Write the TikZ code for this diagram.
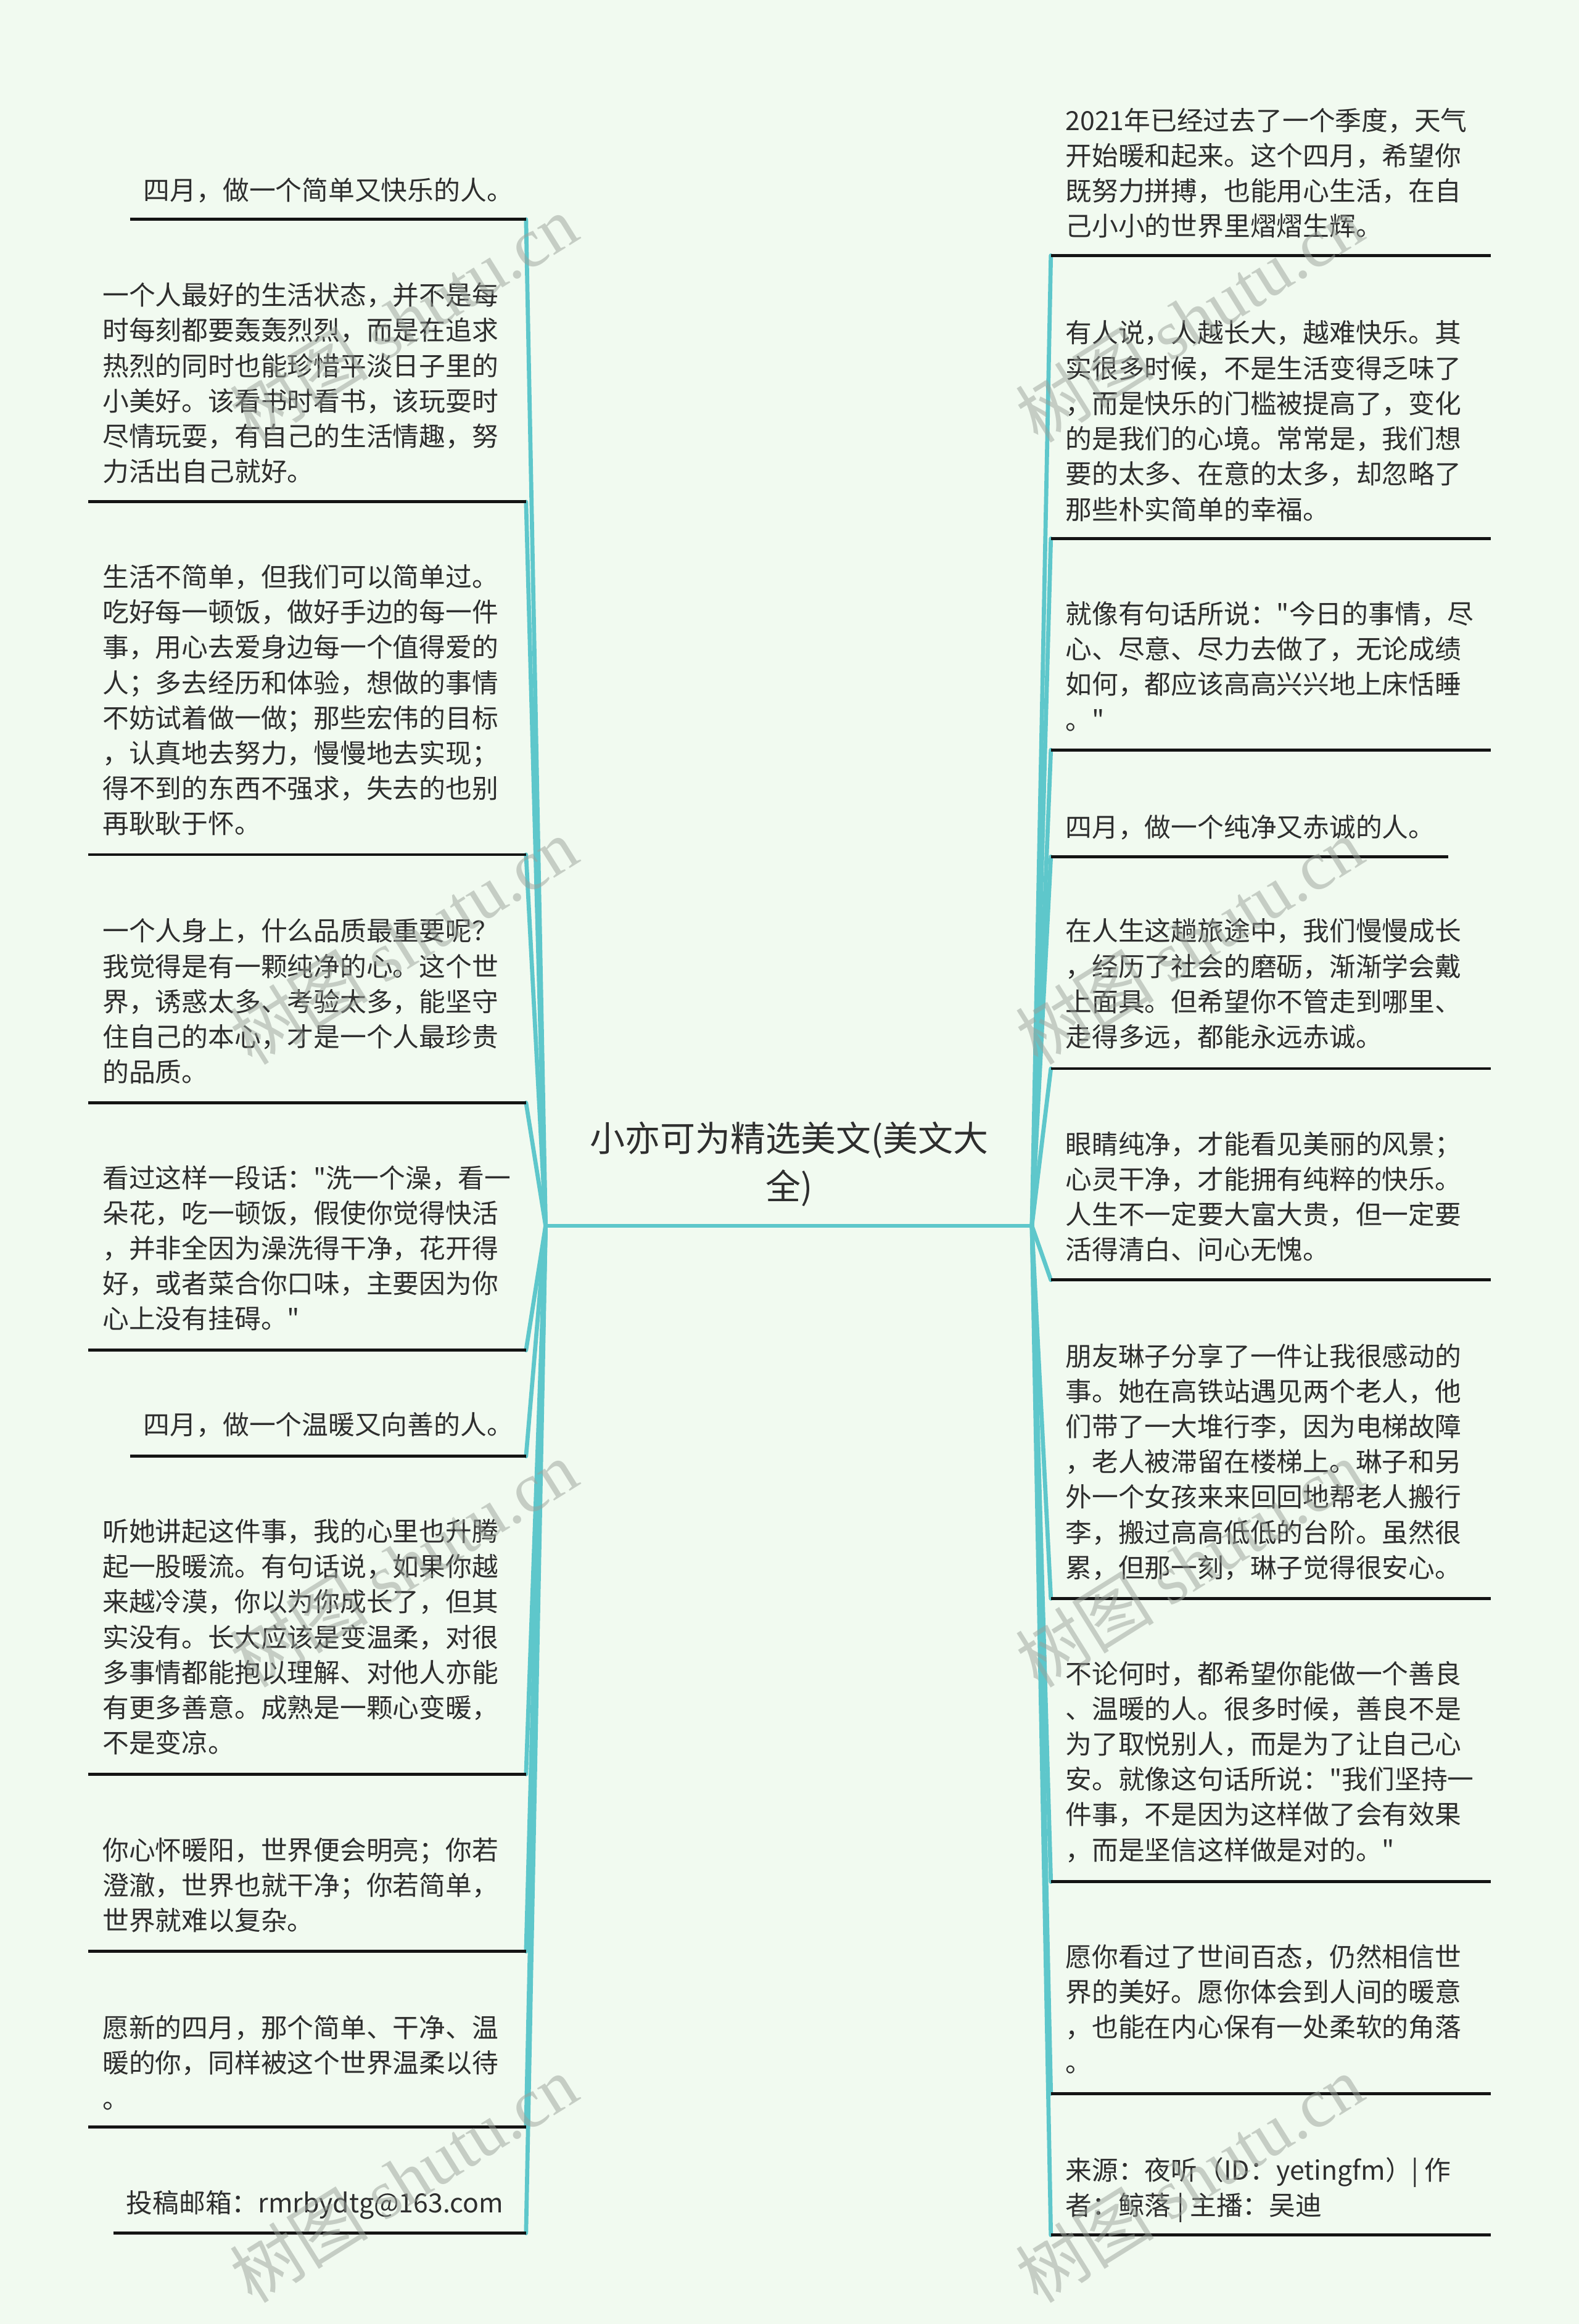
\documentclass[tikz,border=0pt]{standalone}
\usepackage{fontspec}
\setmainfont{Noto Sans CJK SC}[Ligatures=TeXOff]
\newfontfamily\wmlatin{Liberation Serif}
\definecolor{bgc}{HTML}{F1FAF0}
\definecolor{teal}{HTML}{5EC7CB}
\definecolor{txtc}{HTML}{2E2E2E}
\definecolor{wmc}{HTML}{9AA29A}
\tikzset{
  txt/.style={anchor=base west, inner sep=0pt, text=txtc, font=\fontsize{17.8}{23.8}\selectfont},
  uline/.style={draw=black!92, line width=2pt},
  conn/.style={draw=teal, line width=2.8pt, line cap=round},
  wm/.style={text=wmc, opacity=0.5, rotate=32, inner sep=0pt, font=\fontsize{47}{47}\selectfont}
}
\newcommand\tb[1]{\parbox[t]{292pt}{\raggedright #1}}
\begin{document}
\begin{tikzpicture}[x=1pt,y=-1pt]
\fill[bgc] (0,0) rectangle (1065,1568);
\useasboundingbox (0,0) rectangle (1065,1568);

% root
\node[anchor=base, inner sep=0pt, text=txtc, font=\fontsize{23.7}{32.4}\selectfont] (root) at (532.4,777)
  {\parbox[t]{280pt}{\centering 小亦可为精选美文(美文大\\全)}};
\coordinate (rootL) at (368,827);
\coordinate (rootR) at (696,827);

% left nodes
\node[txt] (L1) at (96.7,134.8) {四月，做一个简单又快乐的人。};
\node[txt] (L2) at (69,205.8) {\tb{一个人最好的生活状态，并不是每\\时每刻都要轰轰烈烈，而是在追求\\热烈的同时也能珍惜平淡日子里的\\小美好。该看书时看书，该玩耍时\\尽情玩耍，有自己的生活情趣，努\\力活出自己就好。}};
\node[txt] (L3) at (69,395.8) {\tb{生活不简单，但我们可以简单过。\\吃好每一顿饭，做好手边的每一件\\事，用心去爱身边每一个值得爱的\\人；多去经历和体验，想做的事情\\不妨试着做一做；那些宏伟的目标\\，认真地去努力，慢慢地去实现；\\得不到的东西不强求，失去的也别\\再耿耿于怀。}};
\node[txt] (L4) at (69,634.8) {\tb{一个人身上，什么品质最重要呢？\\我觉得是有一颗纯净的心。这个世\\界，诱惑太多、考验太多，能坚守\\住自己的本心，才是一个人最珍贵\\的品质。}};
\node[txt] (L5) at (69,801.3) {\tb{看过这样一段话："洗一个澡，看一\\朵花，吃一顿饭，假使你觉得快活\\，并非全因为澡洗得干净，花开得\\好，或者菜合你口味，主要因为你\\心上没有挂碍。"}};
\node[txt] (L6) at (96.7,967.8) {四月，做一个温暖又向善的人。};
\node[txt] (L7) at (69,1039.8) {\tb{听她讲起这件事，我的心里也升腾\\起一股暖流。有句话说，如果你越\\来越冷漠，你以为你成长了，但其\\实没有。长大应该是变温柔，对很\\多事情都能抱以理解、对他人亦能\\有更多善意。成熟是一颗心变暖，\\不是变凉。}};
\node[txt] (L8) at (69,1254.8) {\tb{你心怀暖阳，世界便会明亮；你若\\澄澈，世界也就干净；你若简单，\\世界就难以复杂。}};
\node[txt] (L9) at (69,1374.8) {\tb{愿新的四月，那个简单、干净、温\\暖的你，同样被这个世界温柔以待\\。}};
\node[txt] (L10) at (85,1492.8) {投稿邮箱：rmrbydtg@163.com};

% right nodes
\node[txt] (R1) at (718.5,87.8) {\tb{2021年已经过去了一个季度，天气\\开始暖和起来。这个四月，希望你\\既努力拼搏，也能用心生活，在自\\己小小的世界里熠熠生辉。}};
\node[txt] (R2) at (718.5,231.3) {\tb{有人说，人越长大，越难快乐。其\\实很多时候，不是生活变得乏味了\\，而是快乐的门槛被提高了，变化\\的是我们的心境。常常是，我们想\\要的太多、在意的太多，却忽略了\\那些朴实简单的幸福。}};
\node[txt] (R3) at (718.5,420.8) {\tb{就像有句话所说："今日的事情，尽\\心、尽意、尽力去做了，无论成绩\\如何，都应该高高兴兴地上床恬睡\\。"}};
\node[txt] (R4) at (718.5,564.8) {四月，做一个纯净又赤诚的人。};
\node[txt] (R5) at (718.5,634.8) {\tb{在人生这趟旅途中，我们慢慢成长\\，经历了社会的磨砺，渐渐学会戴\\上面具。但希望你不管走到哪里、\\走得多远，都能永远赤诚。}};
\node[txt] (R6) at (718.5,778.5) {\tb{眼睛纯净，才能看见美丽的风景；\\心灵干净，才能拥有纯粹的快乐。\\人生不一定要大富大贵，但一定要\\活得清白、问心无愧。}};
\node[txt] (R7) at (718.5,921.5) {\tb{朋友琳子分享了一件让我很感动的\\事。她在高铁站遇见两个老人，他\\们带了一大堆行李，因为电梯故障\\，老人被滞留在楼梯上。琳子和另\\外一个女孩来来回回地帮老人搬行\\李，搬过高高低低的台阶。虽然很\\累，但那一刻，琳子觉得很安心。}};
\node[txt] (R8) at (718.5,1135.8) {\tb{不论何时，都希望你能做一个善良\\、温暖的人。很多时候，善良不是\\为了取悦别人，而是为了让自己心\\安。就像这句话所说："我们坚持一\\件事，不是因为这样做了会有效果\\，而是坚信这样做是对的。"}};
\node[txt] (R9) at (718.5,1326.8) {\tb{愿你看过了世间百态，仍然相信世\\界的美好。愿你体会到人间的暖意\\，也能在内心保有一处柔软的角落\\。}};
\node[txt] (R10) at (718.5,1470.8) {\tb{来源：夜听（ID：yetingfm）| 作\\者：鲸落 | 主播：吴迪}};

% underline end coordinates (left: a = outer end, b = inner end)
\foreach \n/\xa/\yy in {L1/87.6/148, L2/59.4/338.6, L3/59.4/576.6, L4/59.4/744, L5/59.4/911, L6/87.6/982.5, L7/59.4/1197, L8/59.4/1316.6, L9/59.4/1435, L10/76.4/1506.7}{
  \coordinate (\n a) at (\xa,\yy);
  \coordinate (\n b) at (354.8,\yy);
}
\foreach \n/\xa/\yy in {R1/1005.4/172.4, R2/1005.4/363.4, R3/1005.4/506, R4/977/578, R5/1005.4/721, R6/1005.4/863.6, R7/1005.4/1078.5, R8/1005.4/1269.6, R9/1005.4/1412.6, R10/1005.4/1508}{
  \coordinate (\n a) at (\xa,\yy);
  \coordinate (\n b) at (708.8,\yy);
}

% connectors
\draw[conn] (rootL) -- (rootR);
\foreach \n in {L1,L2,L3,L4,L5,L6,L7,L8,L9,L10}{
  \draw[conn] (rootL) -- (\n b);
}
\foreach \n in {R1,R2,R3,R4,R5,R6,R7,R8,R9,R10}{
  \draw[conn] (rootR) -- (\n b);
}

% underlines
\foreach \n in {L1,L2,L3,L4,L5,L6,L7,L8,L9,L10,R1,R2,R3,R4,R5,R6,R7,R8,R9,R10}{
  \draw[uline] (\n a) -- (\n b);
}

% watermarks
\foreach \xx in {272,802}{
  \foreach \yy in {215,635,1055,1470}{
    \node[wm] at (\xx,\yy) {树图 {\wmlatin shutu.cn}};
  }
}
\end{tikzpicture}
\end{document}
